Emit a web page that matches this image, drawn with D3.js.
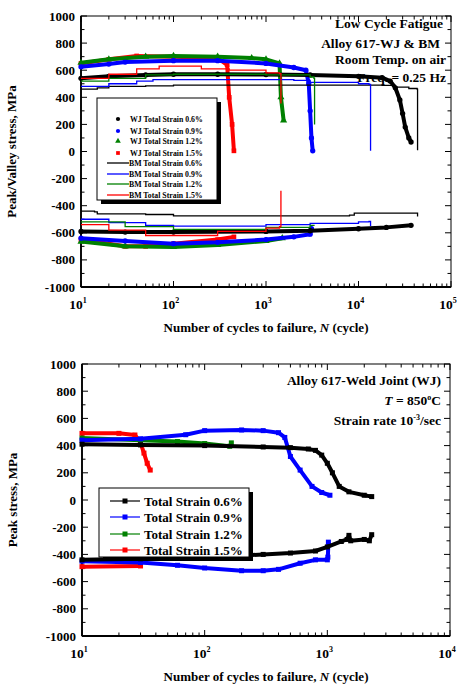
<!DOCTYPE html>
<html><head><meta charset="utf-8">
<script src="https://cdn.jsdelivr.net/npm/d3@7"></script>
<style>
body{margin:0;background:#fff;}
svg{display:block;font-family:"Liberation Serif","Times New Roman",serif;font-weight:bold;}
</style></head>
<body>
<svg id="c" width="457" height="687"></svg>
<script>
// ---------- Top chart data (room temperature, WJ & BM) ----------
const yTicks = [1000,800,600,400,200,0,-200,-400,-600,-800,-1000];
const topXTicks = [1,2,3,4,5];      // exponents of 10
const botXTicks = [1,2,3,4];

const wj06Peak = [[10,540],[20,555],[50,565],[100,570],[300,570],[1000,568],[3000,565],[10000,555],[18000,545],[22000,520],[25000,470],[28000,380],[30000,280],[32000,180],[35000,100],[37000,70]];
const wj06Valley = [[10,-590],[30,-595],[100,-595],[1000,-590],[3000,-585],[10000,-570],[20000,-560],[37000,-545]];
const wj09Peak = [[10,625],[20,645],[30,660],[100,670],[300,670],[1000,650],[2000,620],[2700,600],[2900,500],[3000,300],[3100,100],[3200,5]];
const wj09Valley = [[10,-640],[30,-660],[100,-680],[300,-670],[1000,-650],[2000,-630],[3000,-610],[3100,-570]];
const wj12Peak = [[10,655],[20,680],[50,700],[100,705],[300,700],[700,690],[1000,680],[1400,650],[1450,400],[1550,230]];
const wj12Valley = [[10,-665],[30,-700],[100,-705],[300,-690],[1000,-660],[1500,-640]];
const wj15Peak = [[10,650],[20,680],[40,705],[100,700],[300,690],[380,640],[400,400],[430,200],[450,5]];
const wj15Valley = [[10,-650],[30,-700],[50,-700],[100,-680],[300,-650],[450,-630]];

const bm06Peak = [[10,460],[15,470],[20,480],[50,485],[100,490],[1000,490],[10000,490],[18000,488],[25000,475],[35000,465],[43000,460],[43500,10]];
const bm06Valley = [[10,-440],[14,-445],[15,-460],[50,-465],[100,-475],[1000,-475],[8000,-470],[9000,-455],[30000,-455],[43500,-480]];
const bm09Peak = [[10,480],[20,500],[40,520],[60,530],[300,530],[2000,525],[3000,510],[10000,500],[13000,495],[13500,5]];
const bm09Valley = [[10,-500],[20,-525],[50,-545],[100,-550],[1000,-540],[3000,-530],[10000,-520],[13000,-515],[13500,-550]];
const bm12Peak = [[10,520],[20,540],[50,565],[100,570],[1000,565],[3000,550],[3300,540],[3350,200]];
const bm12Valley = [[10,-520],[30,-555],[100,-575],[1000,-560],[3000,-545],[3300,-540]];
const bm15Peak = [[10,540],[20,570],[40,610],[70,630],[200,610],[400,600],[1000,580],[1400,575],[1450,355]];
const bm15Valley = [[10,-540],[20,-580],[50,-620],[100,-620],[300,-590],[1000,-565],[1400,-555],[1450,-290]];

const topLegendWJ = ["WJ Total Strain 0.6%","WJ Total Strain 0.9%","WJ Total Strain 1.2%","WJ Total Strain 1.5%"];
const topLegendBM = ["BM  Total Strain  0.6%","BM  Total Strain  0.9%","BM  Total Strain  1.2%","BM  Total Strain  1.5%"];
const colors = ["#000000","#0000ff","#008000","#ff0000"];

// ---------- Bottom chart data (850 °C, WJ) ----------
const b06Peak = [[10,410],[30,405],[100,400],[300,390],[500,385],[700,375],[800,365],[900,330],[1000,270],[1100,200],[1250,100],[1500,60],[2000,35],[2300,25]];
const b06Valley = [[10,-440],[30,-432],[100,-425],[300,-400],[500,-390],[800,-375],[1000,-345],[1300,-305],[1450,-290],[1500,-260],[1550,-300],[2000,-290],[2200,-300],[2300,-255]];
const b09Peak = [[10,440],[30,450],[70,480],[100,510],[200,515],[300,510],[400,495],[450,460],[500,320],[600,220],[750,100],[900,55],[1050,35]];
const b09Valley = [[10,-450],[30,-460],[60,-480],[100,-500],[200,-520],[300,-520],[400,-510],[600,-465],[800,-440],[1000,-440],[1010,-420],[1020,-310]];
const b12Peak = [[10,455],[30,440],[60,430],[100,415],[160,395],[165,420]];
const b15Peak = [[10,490],[20,490],[27,478],[30,420],[32,345],[34,270],[36,220]];
const b15Valley = [[10,-490],[30,-485]];
const botLegend = ["Total Strain 0.6%","Total Strain 0.9%","Total Strain 1.2%","Total Strain 1.5%"];

const svg = d3.select("#c");

function frame(g, x, y, x0, x1, y0, y1, expTicks, yTitle){
  const minorX = [];
  for (let e = expTicks[0]; e < expTicks[expTicks.length-1]; e++)
    for (let m = 2; m <= 9; m++) minorX.push(m*Math.pow(10,e));
  const majX = expTicks.map(e=>Math.pow(10,e));
  const minorY = d3.range(-900,1000,200);
  const tk = g.append("g").attr("stroke","#000").attr("stroke-width",1);
  majX.forEach(v=>{ const px=x(v);
    tk.append("line").attr("x1",px).attr("x2",px).attr("y1",y1).attr("y2",y1-6);
    tk.append("line").attr("x1",px).attr("x2",px).attr("y1",y0).attr("y2",y0+6);});
  minorX.forEach(v=>{ const px=x(v);
    tk.append("line").attr("x1",px).attr("x2",px).attr("y1",y1).attr("y2",y1-3.5);
    tk.append("line").attr("x1",px).attr("x2",px).attr("y1",y0).attr("y2",y0+3.5);});
  yTicks.forEach(v=>{ const py=y(v);
    tk.append("line").attr("x1",x0).attr("x2",x0+6).attr("y1",py).attr("y2",py);
    tk.append("line").attr("x1",x1).attr("x2",x1-6).attr("y1",py).attr("y2",py);});
  minorY.forEach(v=>{ const py=y(v);
    tk.append("line").attr("x1",x0).attr("x2",x0+3.5).attr("y1",py).attr("y2",py);
    tk.append("line").attr("x1",x1).attr("x2",x1-3.5).attr("y1",py).attr("y2",py);});
  g.append("rect").attr("x",x0).attr("y",y0).attr("width",x1-x0).attr("height",y1-y0)
    .attr("fill","none").attr("stroke","#000").attr("stroke-width",1);
  g.append("line").attr("x1",x0).attr("x2",x0).attr("y1",y0).attr("y2",y1).attr("stroke","#000").attr("stroke-width",1.8);
  g.append("line").attr("x1",x0).attr("x2",x1).attr("y1",y1).attr("y2",y1).attr("stroke","#000").attr("stroke-width",1.8);
  yTicks.forEach(v=>{
    g.append("text").attr("x",x0-6).attr("y",y(v)+4.5).attr("text-anchor","end")
      .attr("font-size",13).text(v);
  });
  expTicks.forEach(e=>{
    const t = g.append("text").attr("x",x(Math.pow(10,e))-3).attr("y",y1+22).attr("text-anchor","middle").attr("font-size",13.5);
    t.append("tspan").text("10");
    t.append("tspan").attr("dy",-6).attr("font-size",8).text(e);
  });
  const tt = g.append("text").attr("x",(x0+x1)/2).attr("y",y1+45).attr("text-anchor","middle").attr("font-size",13);
  tt.append("tspan").text("Number of cycles to failure, ");
  tt.append("tspan").attr("font-style","italic").text("N");
  tt.append("tspan").text(" (cycle)");
  g.append("text").attr("transform",`translate(${x0-65},${(y0+y1)/2}) rotate(-90)`)
    .attr("text-anchor","middle").attr("font-size",13).text(yTitle);
}

function lineOf(x,y,curve){ return d3.line().x(d=>x(d[0])).y(d=>y(d[1])).curve(curve||d3.curveLinear); }

// ================= TOP =================
{
  const x0=81, x1=451, y0=16, y1=287;
  const x = d3.scaleLog().domain([10,1e5]).range([x0,x1]);
  const y = d3.scaleLinear().domain([-1000,1000]).range([y1,y0]);
  const g = svg.append("g");
  const ann = [["Low Cycle Fatigue",443,28],["Alloy 617-WJ & BM",440,48],["Room Temp. on air",446,64],["Freq. = 0.25 Hz",446,82]];
  ann.forEach(a=>g.append("text").attr("x",a[1]).attr("y",a[2]).attr("text-anchor","end").attr("font-size",13.5).text(a[0]));
  frame(g,x,y,x0,x1,y0,y1,topXTicks,"Peak/Valley stress, MPa");
  const L = lineOf(x,y);
  const LS = lineOf(x,y,d3.curveStepAfter);
  const bm = [[bm06Peak,bm06Valley],[bm09Peak,bm09Valley],[bm12Peak,bm12Valley],[bm15Peak,bm15Valley]];
  const wj = [[wj06Peak,wj06Valley],[wj09Peak,wj09Valley],[wj12Peak,wj12Valley],[wj15Peak,wj15Valley]];
  const symbols = [d3.symbolCircle,d3.symbolCircle,d3.symbolTriangle,d3.symbolSquare];
  [3,2,1,0].forEach(i=>{
    wj[i].forEach(s=>{
      g.append("path").attr("d",L(s)).attr("fill","none").attr("stroke",colors[i]).attr("stroke-width",4).attr("stroke-linejoin","round");
      g.selectAll(null).data(s).enter().append("path")
        .attr("transform",d=>`translate(${x(d[0])},${y(d[1])})`)
        .attr("d",d3.symbol().type(symbols[i]).size(22)).attr("fill",colors[i]);
    });
  });
  [0,1,2,3].forEach(i=>{
    bm[i].forEach(s=>{
      g.append("path").attr("d",LS(s)).attr("fill","none").attr("stroke",colors[i]).attr("stroke-width",1.3);
    });
  });
  const lg = g.append("g");
  lg.append("rect").attr("x",101).attr("y",102).attr("width",120).attr("height",102).attr("fill","#000");
  lg.append("rect").attr("x",97).attr("y",98).attr("width",120).attr("height",102).attr("fill","#fff").attr("stroke","#000").attr("stroke-width",1);
  const wjRows=[119,131,141,153], bmRows=[163,174,184,195];
  topLegendWJ.forEach((t,i)=>{
    lg.append("path").attr("transform",`translate(118,${wjRows[i]})`).attr("d",d3.symbol().type(symbols[i]).size(14)).attr("fill",colors[i]);
    lg.append("text").attr("x",130).attr("y",wjRows[i]+3).attr("font-size",7.8).text(t);
  });
  topLegendBM.forEach((t,i)=>{
    lg.append("line").attr("x1",107).attr("x2",129).attr("y1",bmRows[i]).attr("y2",bmRows[i]).attr("stroke",colors[i]).attr("stroke-width",1.3);
    lg.append("text").attr("x",129).attr("y",bmRows[i]+3).attr("font-size",7.8).text(t);
  });
}

// ================= BOTTOM =================
{
  const x0=82, x1=450, y0=364, y1=636;
  const x = d3.scaleLog().domain([10,1e4]).range([x0,x1]);
  const y = d3.scaleLinear().domain([-1000,1000]).range([y1,y0]);
  const g = svg.append("g");
  frame(g,x,y,x0,x1,y0,y1,botXTicks,"Peak stress, MPa");
  g.append("text").attr("x",441).attr("y",385).attr("text-anchor","end").attr("font-size",13.5).text("Alloy 617-Weld Joint (WJ)");
  const t2 = g.append("text").attr("x",441).attr("y",405).attr("text-anchor","end").attr("font-size",13.5);
  t2.append("tspan").attr("font-style","italic").text("T");
  t2.append("tspan").text(" = 850");
  t2.append("tspan").attr("dy",-5).attr("font-size",8).text("o");
  t2.append("tspan").attr("dy",5).text("C");
  const t3 = g.append("text").attr("x",441).attr("y",425).attr("text-anchor","end").attr("font-size",13.5);
  t3.append("tspan").text("Strain rate 10");
  t3.append("tspan").attr("dy",-5).attr("font-size",8).text("-3");
  t3.append("tspan").attr("dy",5).text("/sec");
  const L = lineOf(x,y);
  const series = [[b06Peak,b06Valley],[b09Peak,b09Valley],[b12Peak],[b15Peak,b15Valley]];
  [3,2,1,0].forEach(i=>{
    series[i].forEach(s=>{
      g.append("path").attr("d",L(s)).attr("fill","none").attr("stroke",colors[i]).attr("stroke-width",4).attr("stroke-linejoin","round");
      g.selectAll(null).data(s).enter().append("rect")
        .attr("x",d=>x(d[0])-2.5).attr("y",d=>y(d[1])-2.5).attr("width",5).attr("height",5).attr("fill",colors[i]);
    });
  });
  const lg = g.append("g");
  lg.append("rect").attr("x",103).attr("y",492).attr("width",150).attr("height",69).attr("fill","#000");
  lg.append("rect").attr("x",99).attr("y",488).attr("width",150).attr("height",69).attr("fill","#fff").attr("stroke","#000").attr("stroke-width",1);
  const rows=[501,517,534,550];
  botLegend.forEach((t,i)=>{
    lg.append("line").attr("x1",110).attr("x2",140).attr("y1",rows[i]).attr("y2",rows[i]).attr("stroke",colors[i]).attr("stroke-width",1.2);
    lg.append("rect").attr("x",122.5).attr("y",rows[i]-2.5).attr("width",5).attr("height",5).attr("fill",colors[i]);
    lg.append("text").attr("x",144).attr("y",rows[i]+4.5).attr("font-size",13).text(t);
  });
}
</script>
</body></html>
